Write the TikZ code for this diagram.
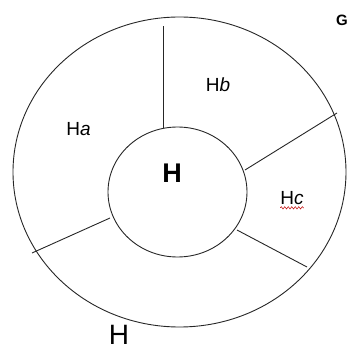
\documentclass[tikz,border=0pt]{standalone}
\usepackage{fontspec}
\setmainfont{Liberation Sans}
\usetikzlibrary{decorations.pathmorphing}

\tikzset{
  ring/.style={line width=0.9pt,black!85},
  spoke/.style={line width=0.9pt,black!85},
  part/.style={inner sep=0pt,font=\fontsize{19}{22}\selectfont},
}

\begin{document}
\begin{tikzpicture}[x=1pt,y=1pt]
\useasboundingbox (0,0) rectangle (348,349);
% outer and inner rings
\draw[ring] (179.5,177) ellipse [x radius=166.5,y radius=155];
\draw[ring] (177.5,157) ellipse [x radius=69.5,y radius=65];
% ends of the spokes
\coordinate (top in) at (163,221);
\coordinate (top out) at (163,323);
\coordinate (right in) at (245,179);
\coordinate (right out) at (337,236);
\coordinate (low in) at (237,119);
\coordinate (low out) at (307,82);
\coordinate (left in) at (110,131);
\coordinate (left out) at (32,96);
\draw[spoke] (top in) -- (top out);
\draw[spoke] (right in) -- (right out);
\draw[spoke] (low in) -- (low out);
\draw[spoke] (left in) -- (left out);
% labels
\node[part] (ha) at (78.5,220) {H\textit{a}};
\node[part] (hb) at (218,264) {H\textit{b}};
\node[part] (hc) at (292,151) {H\textit{c}};
\draw[red!75!black,line width=0.5pt,decorate,
  decoration={snake,amplitude=1.2pt,segment length=3.5pt}]
  ([yshift=-3pt]hc.south west) -- ([yshift=-3pt]hc.south east);
\node[inner sep=0pt,font=\fontsize{27}{30}\selectfont\bfseries] (core) at (172,176) {H};
\node[inner sep=0pt,font=\fontsize{28}{32}\selectfont] (whole) at (119,14) {H};
\node[inner sep=0pt,anchor=east,font=\fontsize{15}{18}\selectfont\bfseries] (group) at (348,329) {G};
\end{tikzpicture}
\end{document}
